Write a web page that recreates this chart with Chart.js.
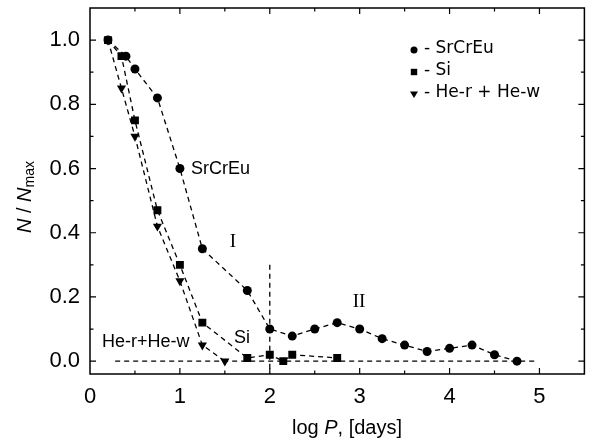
<!DOCTYPE html>
<html>
<head>
<meta charset="UTF-8">
<title>N/Nmax vs log P</title>
<script src="https://cdn.jsdelivr.net/npm/chart.js"></script>
<style>
    body { margin: 0; background: #fff; }
    #box { width: 590px; height: 445px; position: relative; }
</style>
</head>
<body>
<div id="box"><canvas id="myChart"></canvas></div>
<script>
    // SrCrEu (circles)
    const srX = [0.2, 0.4, 0.5, 0.75, 1.0, 1.25, 1.75, 2.0, 2.25, 2.5, 2.75, 3.0, 3.25, 3.5, 3.75, 4.0, 4.25, 4.5, 4.75];
    const srY = [1.0, 0.95, 0.91, 0.82, 0.60, 0.35, 0.22, 0.10, 0.078, 0.10, 0.12, 0.10, 0.07, 0.05, 0.03, 0.04, 0.05, 0.02, 0.0];
    // Si (squares)
    const siX = [0.2, 0.35, 0.5, 0.75, 1.0, 1.25, 1.75, 2.0, 2.15, 2.25, 2.75];
    const siY = [1.0, 0.95, 0.75, 0.47, 0.30, 0.12, 0.01, 0.02, 0.0, 0.02, 0.01];
    // He-r + He-w (down triangles)
    const heX = [0.2, 0.35, 0.5, 0.75, 1.0, 1.25, 1.5];
    const heY = [1.0, 0.85, 0.70, 0.42, 0.25, 0.05, 0.0];
    // guide lines
    const baseX = [0.28, 4.97];
    const baseY = [0, 0];
    const vertX = [2, 2];
    const vertY = [0.30, -0.04];

    const xTicks = [0, 1, 2, 3, 4, 5];
    const yTicks = [0, 0.2, 0.4, 0.6, 0.8, 1.0];

    const toPoints = (xs, ys) => xs.map((v, i) => ({ x: v, y: ys[i] }));

    const dash = [5, 4];
    const lineSet = (label, xs, ys, style, radius, rotation) => ({
        label: label,
        data: toPoints(xs, ys),
        showLine: true,
        borderColor: '#000',
        backgroundColor: '#000',
        borderWidth: 1.3,
        borderDash: dash,
        pointStyle: style,
        pointRadius: radius,
        pointRotation: rotation || 0,
        pointBorderWidth: 0,
    });

    const decorPlugin = {
        id: 'decor',
        afterDraw(chart) {
            const { ctx, chartArea: a, scales: { x, y } } = chart;
            ctx.save();
            ctx.strokeStyle = '#000';
            ctx.fillStyle = '#000';

            // frame
            ctx.lineWidth = 1.5;
            ctx.strokeRect(a.left, a.top, a.right - a.left, a.bottom - a.top);

            // inward ticks on all four sides
            ctx.lineWidth = 1.2;
            ctx.beginPath();
            for (let i = 1; i <= 10; i++) {
                const v = i * 0.5;
                const px = x.getPixelForValue(v);
                const len = i % 2 === 0 ? 6 : 3.5;
                ctx.moveTo(px, a.bottom); ctx.lineTo(px, a.bottom - len);
                ctx.moveTo(px, a.top); ctx.lineTo(px, a.top + len);
            }
            for (let i = 0; i <= 10; i++) {
                const v = i * 0.1;
                const py = y.getPixelForValue(v);
                const len = i % 2 === 0 ? 6 : 3.5;
                ctx.moveTo(a.left, py); ctx.lineTo(a.left + len, py);
                ctx.moveTo(a.right, py); ctx.lineTo(a.right - len, py);
            }
            ctx.stroke();

            // x title: log P, [days]
            const sans = "'Liberation Sans', Arial, sans-serif";
            ctx.textBaseline = 'middle';
            const xParts = [['log ', 'normal'], ['P', 'italic'], [', [days]', 'normal']];
            let w = 0;
            xParts.forEach(p => { ctx.font = p[1] + ' 20px ' + sans; w += ctx.measureText(p[0]).width; });
            let cx = 347 - w / 2;
            xParts.forEach(p => {
                ctx.font = p[1] + ' 20px ' + sans;
                ctx.textAlign = 'left';
                ctx.fillText(p[0], cx, 428);
                cx += ctx.measureText(p[0]).width;
            });

            // y title: N / Nmax
            ctx.save();
            ctx.translate(25, 197);
            ctx.rotate(-Math.PI / 2);
            const yParts = [['N', 'italic 20px', 0], [' / ', 'normal 20px', 0], ['N', 'italic 20px', 0], ['max', 'normal 14px', 5]];
            w = 0;
            yParts.forEach(p => { ctx.font = p[1] + ' ' + sans; w += ctx.measureText(p[0]).width; });
            cx = -w / 2;
            yParts.forEach(p => {
                ctx.font = p[1] + ' ' + sans;
                ctx.textAlign = 'left';
                ctx.fillText(p[0], cx, p[2]);
                cx += ctx.measureText(p[0]).width;
            });
            ctx.restore();

            // annotations
            ctx.textAlign = 'left';
            ctx.font = '18px ' + sans;
            ctx.fillText('SrCrEu', 191, 169);
            ctx.fillText('He-r+He-w', 102, 342);
            ctx.fillText('Si', 234, 338);
            ctx.textAlign = 'center';
            ctx.font = "19px 'Liberation Serif', 'Times New Roman', serif";
            ctx.fillText('I', 233, 242);
            ctx.fillText('II', 359, 302);

            // legend
            const lx = 414;
            const rows = [49, 71, 93];
            ctx.beginPath();
            ctx.arc(lx, rows[0] + 1, 3.5, 0, Math.PI * 2);
            ctx.fill();
            ctx.fillRect(lx - 3.2, rows[1] - 2.2, 6.4, 6.4);
            ctx.beginPath();
            ctx.moveTo(lx - 4, rows[2] - 1.5);
            ctx.lineTo(lx + 4, rows[2] - 1.5);
            ctx.lineTo(lx, rows[2] + 5);
            ctx.closePath();
            ctx.fill();
            ctx.textAlign = 'left';
            ctx.font = "17px 'DejaVu Sans', sans-serif";
            ctx.fillText('- SrCrEu', lx + 10, rows[0]);
            ctx.fillText('- Si', lx + 10, rows[1]);
            ctx.fillText('- He-r + He-w', lx + 10, rows[2]);

            ctx.restore();
        }
    };

    const noPad = s => { s.paddingTop = 0; s.paddingBottom = 0; s.paddingLeft = 0; s.paddingRight = 0; };

    new Chart(document.getElementById('myChart'), {
        type: 'scatter',
        data: {
            datasets: [
                lineSet('base', baseX, baseY, 'circle', 0),
                lineSet('vert', vertX, vertY, 'circle', 0),
                lineSet('He-r + He-w', heX, heY, 'triangle', 5.3, 180),
                lineSet('Si', siX, siY, 'rect', 5.6),
                lineSet('SrCrEu', srX, srY, 'circle', 4.5),
            ]
        },
        options: {
            responsive: true,
            maintainAspectRatio: false,
            animation: false,
            layout: { padding: { top: 8, right: 3, left: 0, bottom: 0 } },
            plugins: {
                legend: { display: false },
                tooltip: { enabled: false },
            },
            scales: {
                x: {
                    type: 'linear',
                    min: 0,
                    max: 5.5,
                    afterBuildTicks: s => { s.ticks = xTicks.map(v => ({ value: v })); },
                    afterFit: s => { s.height = 71; noPad(s); },
                    grid: { display: false, drawTicks: false },
                    border: { display: false },
                    ticks: {
                        autoSkip: false,
                        maxRotation: 0,
                        padding: 10,
                        color: '#000',
                        font: { family: "'Liberation Sans', Arial, sans-serif", size: 22 },
                        callback: v => String(v),
                    },
                },
                y: {
                    type: 'linear',
                    min: -0.04,
                    max: 1.1,
                    afterBuildTicks: s => { s.ticks = yTicks.map(v => ({ value: v })); },
                    afterFit: s => { s.width = 90; noPad(s); },
                    grid: { display: false, drawTicks: false },
                    border: { display: false },
                    ticks: {
                        autoSkip: false,
                        padding: 10,
                        color: '#000',
                        font: { family: "'Liberation Sans', Arial, sans-serif", size: 22 },
                        callback: v => v.toFixed(1),
                    },
                },
            },
        },
        plugins: [decorPlugin],
    });
</script>
</body>
</html>
